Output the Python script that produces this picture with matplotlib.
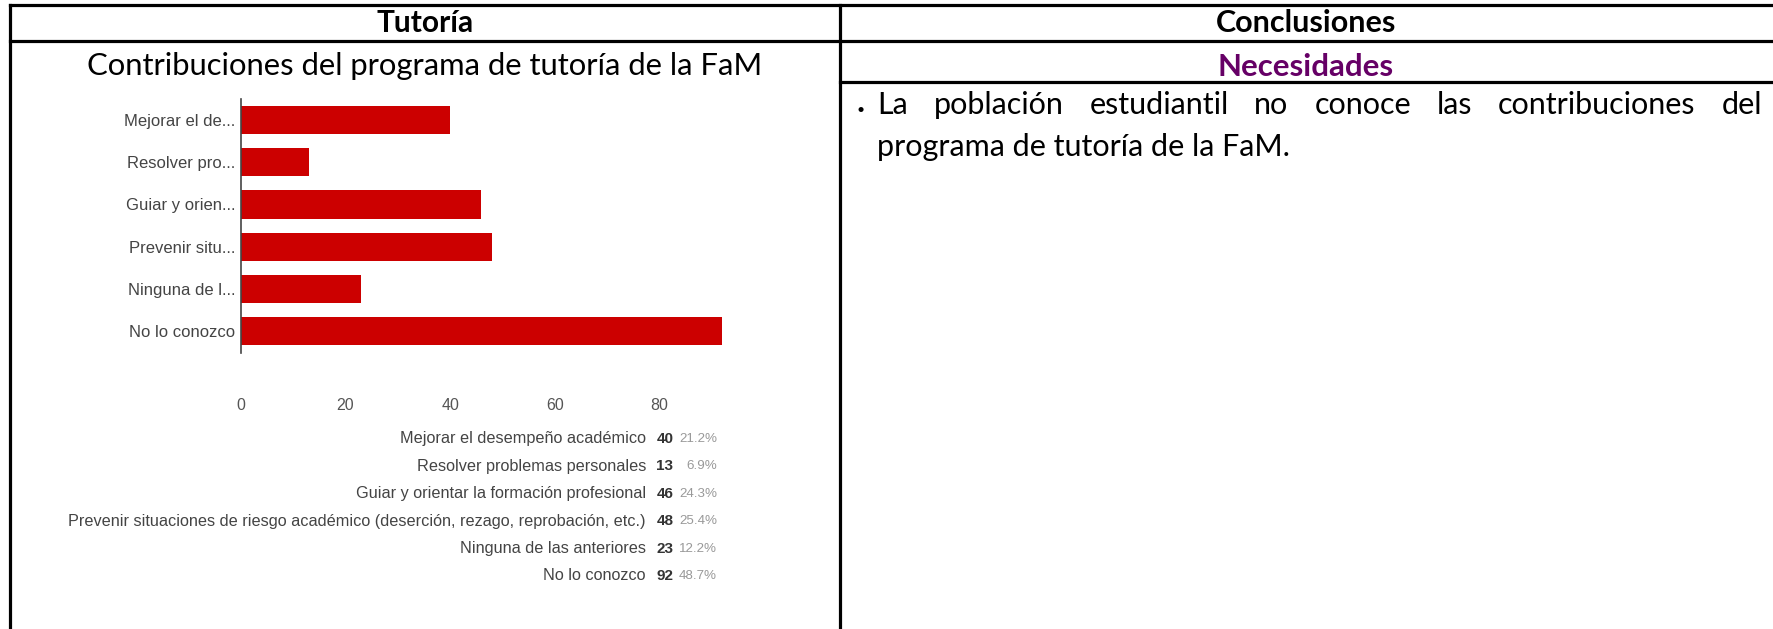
import matplotlib
matplotlib.use("Agg")
import matplotlib.pyplot as plt

# chart data
short_labels = ["Mejorar el de...", "Resolver pro...", "Guiar y orien...",
                "Prevenir situ...", "Ninguna de l...", "No lo conozco"]
full_labels = ["Mejorar el desempeño académico",
               "Resolver problemas personales",
               "Guiar y orientar la formación profesional",
               "Prevenir situaciones de riesgo académico (deserción, rezago, reprobación, etc.)",
               "Ninguna de las anteriores",
               "No lo conozco"]
counts = [40, 13, 46, 48, 23, 92]
percents = ["21.2%", "6.9%", "24.3%", "25.4%", "12.2%", "48.7%"]
xticks = [0, 20, 40, 60, 80]

head_left = "Tutoría"
head_right = "Conclusiones"
subtitle = "Contribuciones del programa de tutoría de la FaM"
sub_right = "Necesidades"
bullet_line1 = "La población estudiantil no conoce las contribuciones del"
bullet_line2 = "programa de tutoría de la FaM."

W, H = 1774, 629
fig = plt.figure(figsize=(W / 100, H / 100), dpi=100)

# overlay in pixel coordinates for the table frame and texts
ov = fig.add_axes([0, 0, 1, 1])
ov.set_xlim(0, W)
ov.set_ylim(H, 0)
ov.axis("off")

lw = 2.3
ov.plot([10, W], [5, 5], color="black", lw=lw)
ov.plot([10, W], [41, 41], color="black", lw=lw)
ov.plot([840, W], [82, 82], color="black", lw=lw)
ov.plot([10, 10], [5, H], color="black", lw=lw)
ov.plot([840, 840], [5, H], color="black", lw=lw)

hfont = "Lato"
ov.text(425, 23, head_left, ha="center", va="center", fontsize=21.5,
        fontweight="bold", family=hfont)
ov.text(1306, 23, head_right, ha="center", va="center", fontsize=22,
        fontweight="bold", family=hfont)
ov.text(425, 66, subtitle, ha="center", va="center", fontsize=22.3, family=hfont)
ov.text(1306, 67, sub_right, ha="center", va="center", fontsize=22.5,
        fontweight="bold", family=hfont, color="#660066")

# bullet paragraph, first line justified
body_size = 22
ov.text(861, 110, "•", ha="center", va="center", fontsize=10, family=hfont)
renderer = fig.canvas.get_renderer()
words = bullet_line1.split()
x0, x1 = 877, 1762
widths = []
for w in words:
    t = ov.text(0, 0, w, fontsize=body_size, family=hfont)
    widths.append(t.get_window_extent(renderer).width)
    t.remove()
gap = (x1 - x0 - sum(widths)) / (len(words) - 1)
x = x0
for w, wd in zip(words, widths):
    ov.text(x, 105, w, ha="left", va="center", fontsize=body_size, family=hfont)
    x += wd + gap
ov.text(x0, 147, bullet_line2, ha="left", va="center", fontsize=body_size,
        family=hfont)

# bar chart
left, right, top, bottom = 241, 241 + 100 * 5.228, 99, 353
ax = fig.add_axes([left / W, 1 - bottom / H, (right - left) / W, (bottom - top) / H])
pos = list(range(len(counts)))
ax.barh(pos, counts, height=0.665, color="#cc0000")
ax.set_xlim(0, 100)
ax.set_ylim(5.52, -0.5)
ax.set_yticks(pos)
ax.set_yticklabels(short_labels, family="Liberation Sans", fontsize=12, color="#444444")
ax.set_xticks(xticks)
ax.set_xticklabels([str(v) for v in xticks], family="Liberation Sans",
                   fontsize=11.5, color="#555555")
ax.tick_params(axis="y", length=0, pad=4)
ax.tick_params(axis="x", length=0, pad=32.5)
for s in ["top", "right", "bottom"]:
    ax.spines[s].set_visible(False)
ax.spines["left"].set_color("#444444")
ax.spines["left"].set_linewidth(1.2)
ax.patch.set_alpha(0)

# summary table under the chart
row0, step = 439, 27.4
for i, (lab, c, p) in enumerate(zip(full_labels, counts, percents)):
    y = row0 + i * step
    ov.text(646, y, lab, ha="right", va="center", family="Liberation Sans",
            fontsize=11.7, color="#444444")
    ov.text(665, y, str(c), ha="center", va="center", family="Liberation Sans",
            fontsize=11, fontweight="bold", color="#333333")
    ov.text(717, y, p, ha="right", va="center", family="Liberation Sans",
            fontsize=9.6, color="#999999")

fig.savefig("out.png", dpi=100)
